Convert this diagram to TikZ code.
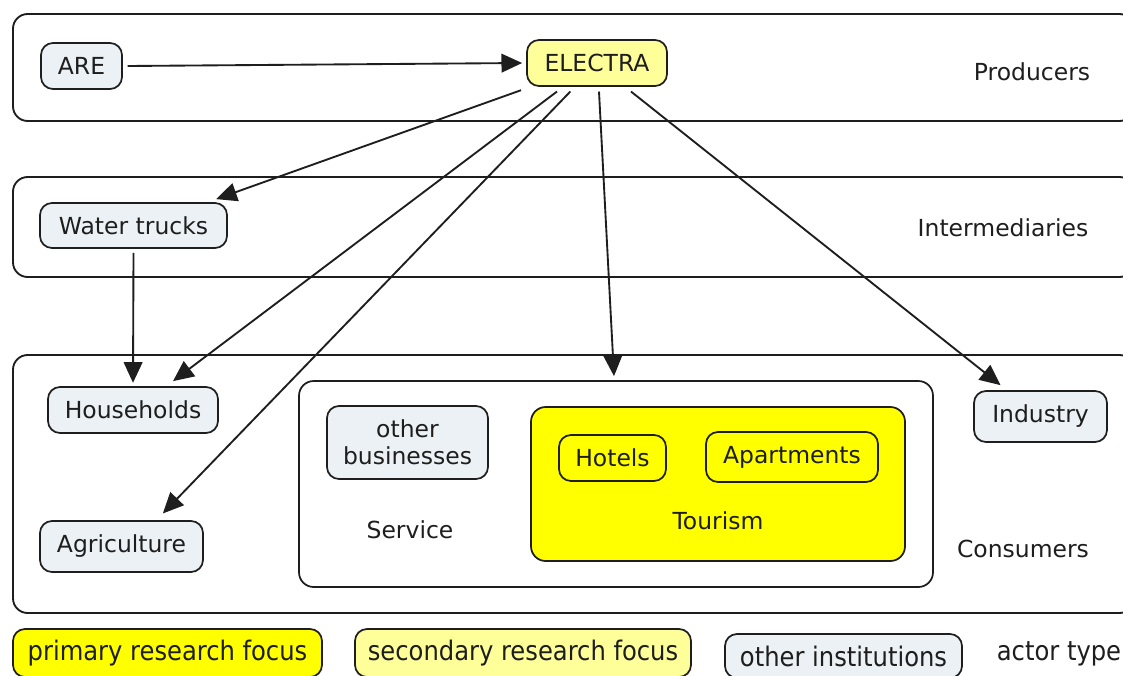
\documentclass[tikz,border=0pt]{standalone}
\usepackage{fontspec}
\setmainfont{DejaVu Sans}
\newfontfamily\condfont{DejaVu Sans Condensed}
\usetikzlibrary{arrows.meta}
\definecolor{gb}{HTML}{EBF1F4}
\definecolor{ly}{HTML}{FFFF99}
\definecolor{yy}{HTML}{FFFF00}
\definecolor{ln}{HTML}{1E1E1E}
\begin{document}
\begin{tikzpicture}[x=0.75pt,y=-0.75pt,
  txt/.style={font=\fontsize{17.6pt}{21pt}\selectfont, text=ln, inner sep=0pt, align=center},
  legtxt/.style={font=\condfont\fontsize{20.2pt}{22pt}\selectfont, text=ln, inner sep=0pt},
  boxbase/.style={txt, draw=ln, line width=1.3pt, rounded corners=9pt},
  other/.style={boxbase, fill=gb},
  second/.style={boxbase, fill=ly},
  prim/.style={boxbase, fill=yy},
  plain/.style={boxbase, fill=white, rounded corners=11pt},
  band/.style={draw=ln, line width=1.4pt, rounded corners=11pt},
  arr/.style={draw=ln, line width=1.4pt, -{Triangle[length=15.5pt,width=14pt]}}
]
\useasboundingbox (0,0) rectangle (1123,675);
\clip (0,0) rectangle (1123,675);
\fill[white] (0,0) rectangle (1123,675);

% bands
\draw[band] (13,14) rectangle (1134,121);
\draw[band] (13,177) rectangle (1134,277);
\draw[band] (13,355) rectangle (1134,613);

\node[txt] (lprod) at (1032,72) {Producers};
\node[txt] (linter) at (1003,228) {Intermediaries};
\node[txt] (lcons) at (1023,549) {Consumers};

% nodes
\node[other, minimum width=60.75pt, minimum height=34.5pt] (are) at (81.5,66) {ARE};
\node[second, minimum width=105pt, minimum height=34.5pt] (electra) at (597,63) {ELECTRA};
\node[other, minimum width=140.25pt, minimum height=33.75pt] (wt) at (133.5,225.5) {Water trucks};
\node[other, minimum width=127.5pt, minimum height=34.5pt] (hh) at (133,410) {Households};
\node[other, minimum width=122.25pt, minimum height=38.25pt] (agri) at (121.5,546.5) {Agriculture};

\node[plain, minimum width=475.5pt, minimum height=154.5pt] (service) at (616,484) {};
\node[txt] (lservice) at (410,530) {Service};
\node[other, minimum width=120.75pt, minimum height=54.75pt] (ob) at (407.5,442.5) {other\\[-1pt]businesses};
\node[prim, minimum width=280.5pt, minimum height=115.5pt, rounded corners=11pt] (tourism) at (718,484) {};
\node[txt] (ltourism) at (718,521) {Tourism};
\node[prim, minimum width=80.25pt, minimum height=34.5pt] (hotels) at (612.5,458) {Hotels};
\node[prim, minimum width=129pt, minimum height=37.5pt] (apart) at (792,457) {Apartments};
\node[other, minimum width=99.75pt, minimum height=38.25pt] (ind) at (1040.5,416.5) {Industry};

% legend
\node[prim, legtxt, minimum width=231.75pt, minimum height=36pt, rounded corners=9pt] (lg1) at (167.5,653) {primary research focus};
\node[second, legtxt, minimum width=252pt, minimum height=36pt, rounded corners=9pt] (lg2) at (523,653) {secondary research focus};
\node[other, legtxt, minimum width=177.75pt, minimum height=33pt, rounded corners=9pt] (lg3) at (843.5,656) {other institutions};
\node[legtxt] (lg4) at (1059,654) {actor type};

% connectors
\draw[arr] ([xshift=3.5pt]are.east) -- ([xshift=-3pt]electra.west);
\draw[arr] ([xshift=-57pt,yshift=-2.5pt]electra.south) -- ([xshift=62pt,yshift=2.25pt]wt.north);
\draw[arr] ([xshift=-30pt,yshift=-3.5pt]electra.south) -- ([xshift=30pt,yshift=3.75pt]hh.north);
\draw[arr] ([xshift=-20pt,yshift=-3.5pt]electra.south) -- ([xshift=31pt,yshift=5pt]agri.north);
\draw[arr] ([xshift=1.5pt,yshift=-3.5pt]electra.south) -- ([xshift=-1.5pt,yshift=3pt]service.north);
\draw[arr] ([xshift=25.5pt,yshift=-3.5pt]electra.south) -- ([xshift=-30pt,yshift=3.75pt]ind.north);
\draw[arr] ([yshift=-3pt]wt.south) -- ([yshift=2.5pt]hh.north);
\end{tikzpicture}
\end{document}
